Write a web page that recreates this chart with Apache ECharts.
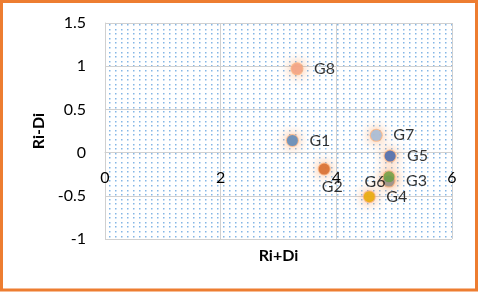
<!DOCTYPE html>
<html><head><meta charset="utf-8">
<script src="https://cdn.jsdelivr.net/npm/echarts@6/dist/echarts.min.js"></script>
<style>html,body{margin:0;padding:0;background:#fff}#c{width:480px;height:292px}</style>
</head><body><div id="c"></div>
<script>
var names = ['G1','G2','G3','G4','G5','G6','G7','G8'];
var xs = [3.24, 3.79, 4.91, 4.57, 4.93, 4.91, 4.69, 3.32];
var ys = [0.14, -0.19, -0.33, -0.51, -0.04, -0.28, 0.20, 0.97];
var xTicks = [0, 2, 4, 6];
var yTicks = [-1, -0.5, 0, 0.5, 1, 1.5];

var colors = ['#4f8ac6','#d4692a','#8f8f8f','#e6ad00','#3a66b8','#65a042','#9dc0e6','#f2a488'];
var labelStyle = {
  G2: {position:'bottom', distance:4, offset:[8,0]},
  G6: {position:'left', distance:5, offset:[7,5]}
};

// dotted pattern tile
var tile = document.createElement('canvas');
tile.width = 30; tile.height = 23;
var tc = tile.getContext('2d');
tc.fillStyle = '#ffffff'; tc.fillRect(0,0,30,23);
tc.fillStyle = '#84b6e6';
for (var i = 0; i < 5; i++) for (var j = 0; j < 5; j++) {
  tc.fillRect(i*6+1, Math.round(j*4.6)+1, 1.5, 1.5);
}

var data = names.map(function(n, k){
  var ls = labelStyle[n] || {position:'right', distance:11.5};
  return {
    name: n, value: [xs[k], ys[k]],
    itemStyle: {color: colors[k]},
    label: Object.assign({show:true, formatter:n}, ls)
  };
});
var glowData = names.map(function(n, k){ return [xs[k], ys[k]]; });

var gridTop = 23, gridBottom = 53, H = 292;
var plotH = H - gridTop - gridBottom;
var yMin = yTicks[0], yMax = yTicks[yTicks.length-1];
// x axis crosses at y = 0 (as in the source chart)
var xAxisOffset = -((0 - yMin) / (yMax - yMin)) * plotH;

var font = 'Lato, "Liberation Sans", sans-serif';
var chart = echarts.init(document.getElementById('c'), null, {renderer:'canvas'});
chart.setOption({
  animation: false,
  textStyle: {fontFamily: font},
  grid: {left:105, right:28, top:gridTop, bottom:gridBottom, show:true, borderWidth:0,
         containLabel:false, outerBoundsMode:'none',
         backgroundColor: {image: tile, repeat: 'repeat'}},
  xAxis: {
    type:'value', min: xTicks[0], max: xTicks[xTicks.length-1], interval: 2,
    position:'bottom', offset: xAxisOffset,
    name:'Ri+Di', nameLocation:'middle', nameGap:95,
    nameTextStyle:{fontFamily:font, fontSize:16, fontWeight:'bold', color:'#000'},
    axisLine:{show:true, onZero:false, lineStyle:{color:'#d0d0d0', width:1}},
    axisTick:{show:false},
    axisLabel:{fontFamily:font, fontSize:16, color:'#000', margin:17},
    splitLine:{show:true, lineStyle:{color:'#d0d0d0', width:1}}
  },
  yAxis: {
    type:'value', min: yMin, max: yMax, interval: 0.5,
    name:'Ri-Di', nameLocation:'middle', nameGap:58,
    nameTextStyle:{fontFamily:font, fontSize:16, fontWeight:'bold', color:'#000'},
    axisLine:{show:true, onZero:false, lineStyle:{color:'#d0d0d0', width:1}}, axisTick:{show:false},
    axisLabel:{fontFamily:font, fontSize:16, color:'#000', margin:19},
    splitLine:{show:true, lineStyle:{color:'#d0d0d0', width:1}}
  },
  series: [{
    type:'scatter', symbol:'circle', symbolSize:13, silent:true,
    itemStyle:{color:'rgba(248,170,115,0.9)', shadowBlur:12, shadowColor:'rgba(247,145,75,1)'},
    data: glowData
  },{
    type:'scatter', symbol:'circle', symbolSize:11,
    label:{fontFamily:font, fontSize:16, color:'#000'},
    data: data
  }],
  graphic: [{
    type:'rect', z:100, silent:true,
    shape:{x:1.5, y:1.5, width:475, height:288.5},
    style:{fill:'none', stroke:'#ed7d31', lineWidth:3}
  }]
});
</script></body></html>
